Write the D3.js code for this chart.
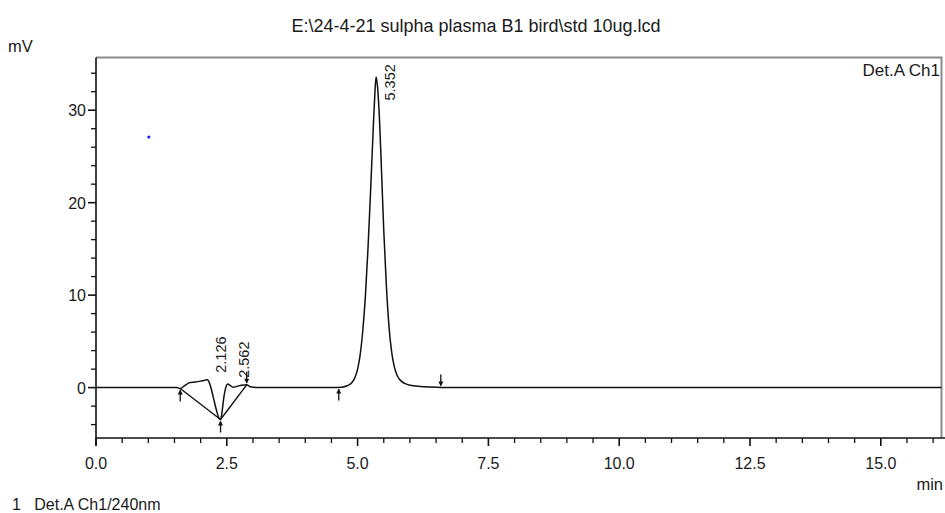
<!DOCTYPE html>
<html>
<head>
<meta charset="utf-8">
<script src="https://cdn.jsdelivr.net/npm/d3@7"></script>
<style>
  html, body { margin: 0; padding: 0; background: #fff; }
  svg text { font-family: "Liberation Sans", Arial, Helvetica, sans-serif; fill: #1a1a1a; }
</style>
</head>
<body>
<svg id="chart" width="945" height="513"></svg>
<script>
// Chromatogram trace: retention time (min) and detector response (mV)
const times = [
  0.00, 0.50, 1.00, 1.55, 1.61, 1.70, 1.80, 1.90, 2.00, 2.08, 2.13, 2.18, 2.24, 2.30, 2.35, 2.38,
  2.41, 2.44, 2.48, 2.52, 2.56, 2.62, 2.70, 2.78, 2.88, 2.95, 3.10, 3.50, 4.00, 4.50, 4.70,
  4.80, 4.90, 4.95, 5.00, 5.05, 5.10, 5.15, 5.20, 5.25, 5.30, 5.33, 5.352, 5.38, 5.42, 5.46,
  5.50, 5.55, 5.60, 5.65, 5.70, 5.75, 5.80, 5.90, 6.00, 6.20, 6.40, 6.60, 7.00, 8.00,
  10.00, 12.00, 14.00, 16.16
];
const signal = [
  0.00, 0.00, 0.00, 0.00, -0.10, 0.25, 0.55, 0.60, 0.70, 0.80, 0.85, 0.30, -1.00, -2.40, -3.30, -3.45,
  -2.60, -1.20, 0.00, 0.40, 0.25, 0.05, 0.15, 0.25, 0.30, 0.10, 0.00, 0.00, 0.00, 0.00, 0.05,
  0.20, 0.60, 1.10, 2.00, 3.60, 6.20, 10.00, 15.20, 21.50, 28.20, 31.80, 33.60, 32.60, 28.80, 23.00,
  17.00, 11.00, 6.60, 3.90, 2.30, 1.40, 0.90, 0.45, 0.25, 0.12, 0.06, 0.02, 0.00, 0.00,
  0.00, 0.00, 0.00, 0.00
];

// Integrated peaks: retention time, apex height, start/end of integration
const peakTimes   = [2.126, 2.562, 5.352];
const peakHeights = [0.85, 0.30, 33.60];
const peakStarts  = [[1.61, -0.10], [2.38, -3.45], [4.64, 0.00]];
const peakEnds    = [[2.38, -3.45], [2.88, 0.30], [6.59, 0.00]];

// Axis ticks
const xMajorTicks = [0, 2.5, 5.0, 7.5, 10.0, 12.5, 15.0];
const xMinorTicks = d3.range(0, 16.01, 0.5);
const yMajorTicks = [0, 10, 20, 30];
const yMinorTicks = [-4, -2, 2, 4, 6, 8, 12, 14, 16, 18, 22, 24, 26, 28, 32, 34];

// Stray marker on the plot
const markerPoint = [1.01, 27.1];

const titleText = "E:\\24-4-21 sulpha plasma B1 bird\\std 10ug.lcd";
const channelText = "Det.A Ch1";
const legendText = "1   Det.A Ch1/240nm";

const svg = d3.select("#chart");
const plotL = 96, plotR = 941.5, plotT = 57.5, plotB = 438;

const x = d3.scaleLinear().domain([0, 16.16]).range([plotL, plotR]);
const y = d3.scaleLinear().domain([-5.45, 35.7]).range([plotB, plotT]);

// frame (top and right edges in grey)
svg.append("path")
  .attr("d", `M${plotL},${plotT}H${plotR}V${plotB}`)
  .attr("fill", "none").attr("stroke", "#8a8a8a").attr("stroke-width", 2);

// x axis
svg.append("line").attr("x1", plotL).attr("x2", 945).attr("y1", plotB).attr("y2", plotB)
  .attr("stroke", "#111").attr("stroke-width", 1.6);
svg.append("g").selectAll("line").data(xMinorTicks).join("line")
  .attr("x1", d => x(d)).attr("x2", d => x(d))
  .attr("y1", plotB).attr("y2", d => xMajorTicks.includes(d) ? plotB + 8 : plotB + 5)
  .attr("stroke", "#111").attr("stroke-width", d => xMajorTicks.includes(d) ? 1.6 : 1.3);
svg.append("g").selectAll("text").data(xMajorTicks).join("text")
  .attr("x", d => x(d)).attr("y", 469)
  .attr("text-anchor", "middle").attr("font-size", 16)
  .text(d => d.toFixed(1));

// y axis
svg.append("line").attr("x1", plotL).attr("x2", plotL).attr("y1", plotT).attr("y2", plotB + 8)
  .attr("stroke", "#111").attr("stroke-width", 1.6);
svg.append("g").selectAll("line").data(yMajorTicks.concat(yMinorTicks)).join("line")
  .attr("y1", d => y(d)).attr("y2", d => y(d))
  .attr("x1", d => yMajorTicks.includes(d) ? plotL - 8 : plotL - 5).attr("x2", plotL)
  .attr("stroke", "#111").attr("stroke-width", d => yMajorTicks.includes(d) ? 1.6 : 1.3);
svg.append("g").selectAll("text").data(yMajorTicks).join("text")
  .attr("x", plotL - 10).attr("y", d => y(d) + 6)
  .attr("text-anchor", "end").attr("font-size", 16)
  .text(d => d);

// axis captions and titles
svg.append("text").attr("x", 8).attr("y", 52).attr("font-size", 16.5).text("mV");
svg.append("text").attr("x", 943).attr("y", 490).attr("text-anchor", "end").attr("font-size", 16.5).text("min");
svg.append("text").attr("x", 476).attr("y", 32).attr("text-anchor", "middle").attr("font-size", 18).text(titleText);
svg.append("text").attr("x", 940).attr("y", 76).attr("text-anchor", "end").attr("font-size", 17).text(channelText);
svg.append("text").attr("x", 12).attr("y", 510).attr("font-size", 16).attr("xml:space", "preserve").text(legendText);

// integration baselines
svg.append("g").selectAll("line").data(peakStarts.slice(0, 2)).join("line")
  .attr("x1", d => x(d[0])).attr("y1", d => y(d[1]))
  .attr("x2", (d, i) => x(peakEnds[i][0])).attr("y2", (d, i) => y(peakEnds[i][1]))
  .attr("stroke", "#111").attr("stroke-width", 1.4);

// trace
const pts = times.map((t, i) => [t, signal[i]]);
svg.append("path")
  .datum(pts)
  .attr("d", d3.line().x(d => x(d[0])).y(d => y(d[1])).curve(d3.curveMonotoneX))
  .attr("fill", "none").attr("stroke", "#111").attr("stroke-width", 1.5);

// start (up) and end (down) arrows of each integration window
function arrow(px, py, up) {
  const g = svg.append("g").attr("stroke", "#111").attr("fill", "#111");
  if (up) {
    g.append("line").attr("x1", px).attr("x2", px).attr("y1", py + 2).attr("y2", py + 13).attr("stroke-width", 1.3);
    g.append("path").attr("d", `M${px},${py + 1}l-2.5,5h5z`).attr("stroke", "none");
  } else {
    g.append("line").attr("x1", px).attr("x2", px).attr("y1", py - 13).attr("y2", py - 2).attr("stroke-width", 1.3);
    g.append("path").attr("d", `M${px},${py - 1}l-2.5,-5h5z`).attr("stroke", "none");
  }
}
peakStarts.forEach(d => arrow(x(d[0]), y(d[1]), true));
peakEnds.forEach((d, i) => { if (i !== 0) arrow(x(d[0]), y(d[1]), false); });

// retention time labels, rotated, kept inside the frame
svg.append("g").selectAll("text").data(peakTimes).join("text")
  .attr("font-size", 14.5)
  .attr("transform", (d, i) => {
    const px = x(d) + 19;
    const py = Math.max(plotT + 43, y(peakHeights[i]) - 7);
    return `translate(${px},${py}) rotate(-90)`;
  })
  .text(d => d.toFixed(3));

// stray point
svg.append("circle").attr("cx", x(markerPoint[0])).attr("cy", y(markerPoint[1])).attr("r", 1.6).attr("fill", "#2020ff");
</script>
</body>
</html>
